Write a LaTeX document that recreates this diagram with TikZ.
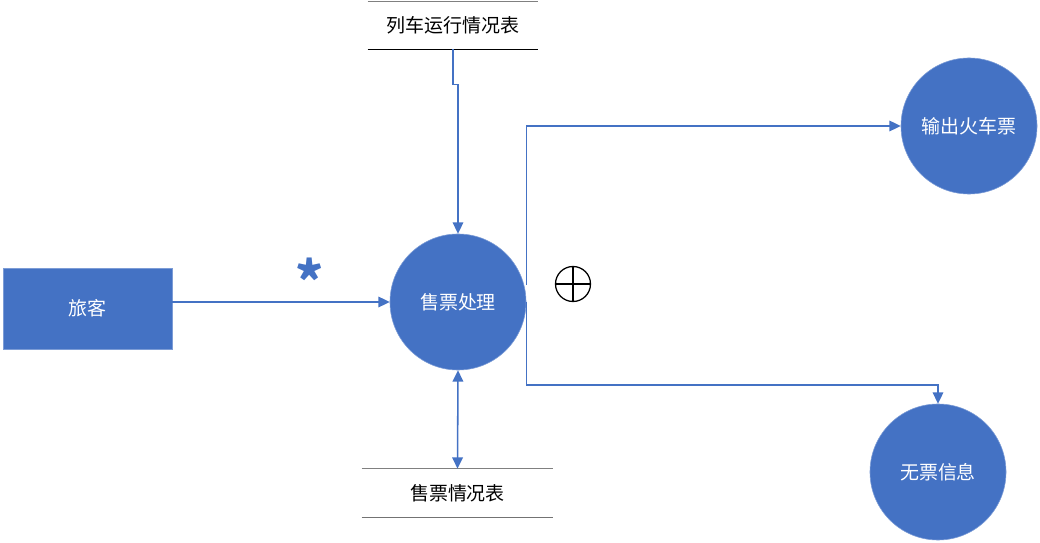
\documentclass[tikz,border=0pt]{standalone}
\usepackage{fontspec}
\setmainfont{Noto Sans CJK SC}
\usetikzlibrary{positioning, calc, arrows.meta}
\definecolor{Azul}{RGB}{68,114,196}

\begin{document}
\begin{tikzpicture}[x=0.025cm, y=-0.025cm,
    proc/.style={
        circle, fill=Azul, draw=Azul!70!white, inner sep=0pt,
        minimum size=3.4cm, text=white,
        font=\fontsize{13.5pt}{16pt}\selectfont},
    ent/.style={
        rectangle, fill=Azul, draw=Azul!70!white,
        minimum width=4.225cm, minimum height=2.025cm,
        text=white, font=\fontsize{13.5pt}{16pt}\selectfont},
    store/.style={
        rectangle, inner sep=0pt,
        font=\fontsize{13.5pt}{16pt}\selectfont},
    arr/.style={-{Triangle[length=8pt, width=7.5pt]}, line width=1.1pt, color=Azul},
    darr/.style={{Triangle[length=8pt, width=7.5pt]}-{Triangle[length=8pt, width=7.5pt]},
        line width=1.1pt, color=Azul},
    orsym/.style={
        circle, draw, line width=0.9pt, minimum size=0.875cm, inner sep=0pt,
        path picture={
          \draw[line width=0.9pt] (path picture bounding box.north) -- (path picture bounding box.south);
          \draw[line width=0.9pt] (path picture bounding box.west) -- (path picture bounding box.east);}},
    starlab/.style={text=Azul, font=\fontsize{38pt}{40pt}\selectfont\bfseries}]
  \useasboundingbox (0,0) rectangle (1040,543);
  % Nodos principales
  \node[ent]  (trav) at (87.5,308.5) {旅客};
  \node[proc] (hub)  at (458,302)    {售票处理};
  \node[proc] (out)  at (969,126)    {输出火车票};
  \node[proc] (none) at (938,472)    {无票信息};
  % Almacenes de datos
  \node[store, minimum width=4.25cm, minimum height=1.175cm]
    (trains) at (453,25.5) {列车运行情况表};
  \node[store, minimum width=4.775cm, minimum height=1.2cm]
    (sales) at (457.5,493) {售票情况表};
  \draw[gray, line width=0.9pt]  (trains.north west) -- (trains.north east);
  \draw[black, line width=0.9pt] (trains.south west) -- (trains.south east);
  \draw[gray, line width=0.9pt]  (sales.north west) -- (sales.north east);
  \draw[gray!90!black, line width=0.9pt] (sales.south west) -- (sales.south east);
  % Simbolos
  \node[starlab] (star) at (310,280) {*};
  \node[orsym]   (plus) at (573,284) {};
  % Flechas
  \draw[arr]  (trav.east |- hub.west) -- (hub.west);
  \draw[arr]  (trains.south) -- ++(0,35) -| (hub.north);
  \draw[darr] (hub.south) -- (sales.north);
  \draw[arr]  ([yshift=0.425cm]hub.east) |- (out.west);
  \draw[arr]  (hub.east) -- ++(0,83) -| (none.north);
\end{tikzpicture}
\end{document}
